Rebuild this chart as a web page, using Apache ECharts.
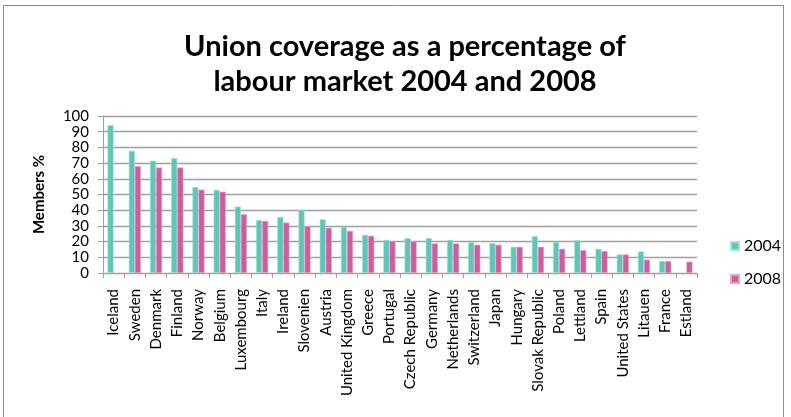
<!DOCTYPE html>
<html>
<head>
<meta charset="utf-8">
<script src="https://cdn.jsdelivr.net/npm/echarts@6/dist/echarts.min.js"></script>
<style>
html,body{margin:0;padding:0;background:#fff;}
#c{width:791px;height:417px;}
</style>
</head>
<body>
<div id="c"></div>
<script>
const categories = ["Iceland","Sweden","Denmark","Finland","Norway","Belgium","Luxembourg","Italy","Ireland","Slovenien","Austria","United Kingdom","Greece","Portugal","Czech Republic","Germany","Netherlands","Switzerland","Japan","Hungary","Slovak Republic","Poland","Lettland","Spain","United States","Litauen","France","Estland"];
const values2004 = [94.1,77.8,71.5,73.2,54.8,52.9,42.3,33.8,35.7,40.2,34.2,29.2,24.3,21.1,22.2,22.2,21.1,19.5,19.0,16.7,23.5,19.7,20.9,15.4,11.8,13.7,7.6,null];
const values2008 = [null,68.1,67.2,67.2,53.1,51.8,37.4,33.2,32.1,29.8,28.8,26.8,23.7,20.1,20.1,18.8,18.8,18.0,18.0,16.7,16.7,15.4,14.6,14.0,11.8,8.5,7.6,7.2];
const yTicks = [0,10,20,30,40,50,60,70,80,90,100];

const font = "Lato, 'Open Sans', sans-serif";
const chart = echarts.init(document.getElementById('c'));
chart.setOption({
  animation:false,
  title:{
    text:"Union coverage as a percentage of\nlabour market 2004 and 2008",
    left:400, textAlign:'center', top:24,
    textStyle:{fontFamily:font,fontWeight:'bold',fontSize:29,color:'#000',lineHeight:35}
  },
  graphic:[{type:'rect',shape:{x:3.5,y:5.5,width:780,height:430},style:{fill:'none',stroke:'#8a8a8a',lineWidth:1},silent:true}],
  legend:{
    orient:'vertical', left:725, top:233, itemWidth:8, itemHeight:8, itemGap:17,
    icon:'rect',
    textStyle:{fontFamily:font,fontSize:16,color:'#000'},
    data:['2004','2008']
  },
  grid:{left:103,right:94,top:116,bottom:144},
  xAxis:{
    type:'category', data:categories,
    axisLine:{lineStyle:{color:'#a0a0a0'}},
    axisTick:{show:true,length:5,lineStyle:{color:'#a0a0a0'}},
    axisLabel:{rotate:90,interval:0,fontFamily:font,fontSize:15,color:'#000',margin:16}
  },
  yAxis:{
    type:'value', min:0, max:100, interval:10,
    name:'Members %', nameLocation:'middle', nameGap:56, nameRotate:90,
    nameTextStyle:{fontFamily:font,fontWeight:'bold',fontSize:15,color:'#000'},
    axisLine:{show:true,lineStyle:{color:'#a0a0a0'}},
    axisTick:{show:true,inside:false,length:5,lineStyle:{color:'#a0a0a0'}},
    splitLine:{lineStyle:{color:'#a0a0a0',width:1.4}},
    axisLabel:{fontFamily:font,fontSize:15,color:'#000',margin:14,
      formatter:function(v){return yTicks.indexOf(v)>=0?String(v):'';}}
  },
  series:[
    {name:'2004',type:'bar',data:values2004,barGap:'0%',barCategoryGap:'43%',
     itemStyle:{color:'#5ec6b7',borderColor:'#a8e3da',borderWidth:0.6}},
    {name:'2008',type:'bar',data:values2008,
     itemStyle:{color:'#cf5c9c',borderColor:'#e6a4c8',borderWidth:0.6}}
  ]
});
</script>
</body>
</html>
